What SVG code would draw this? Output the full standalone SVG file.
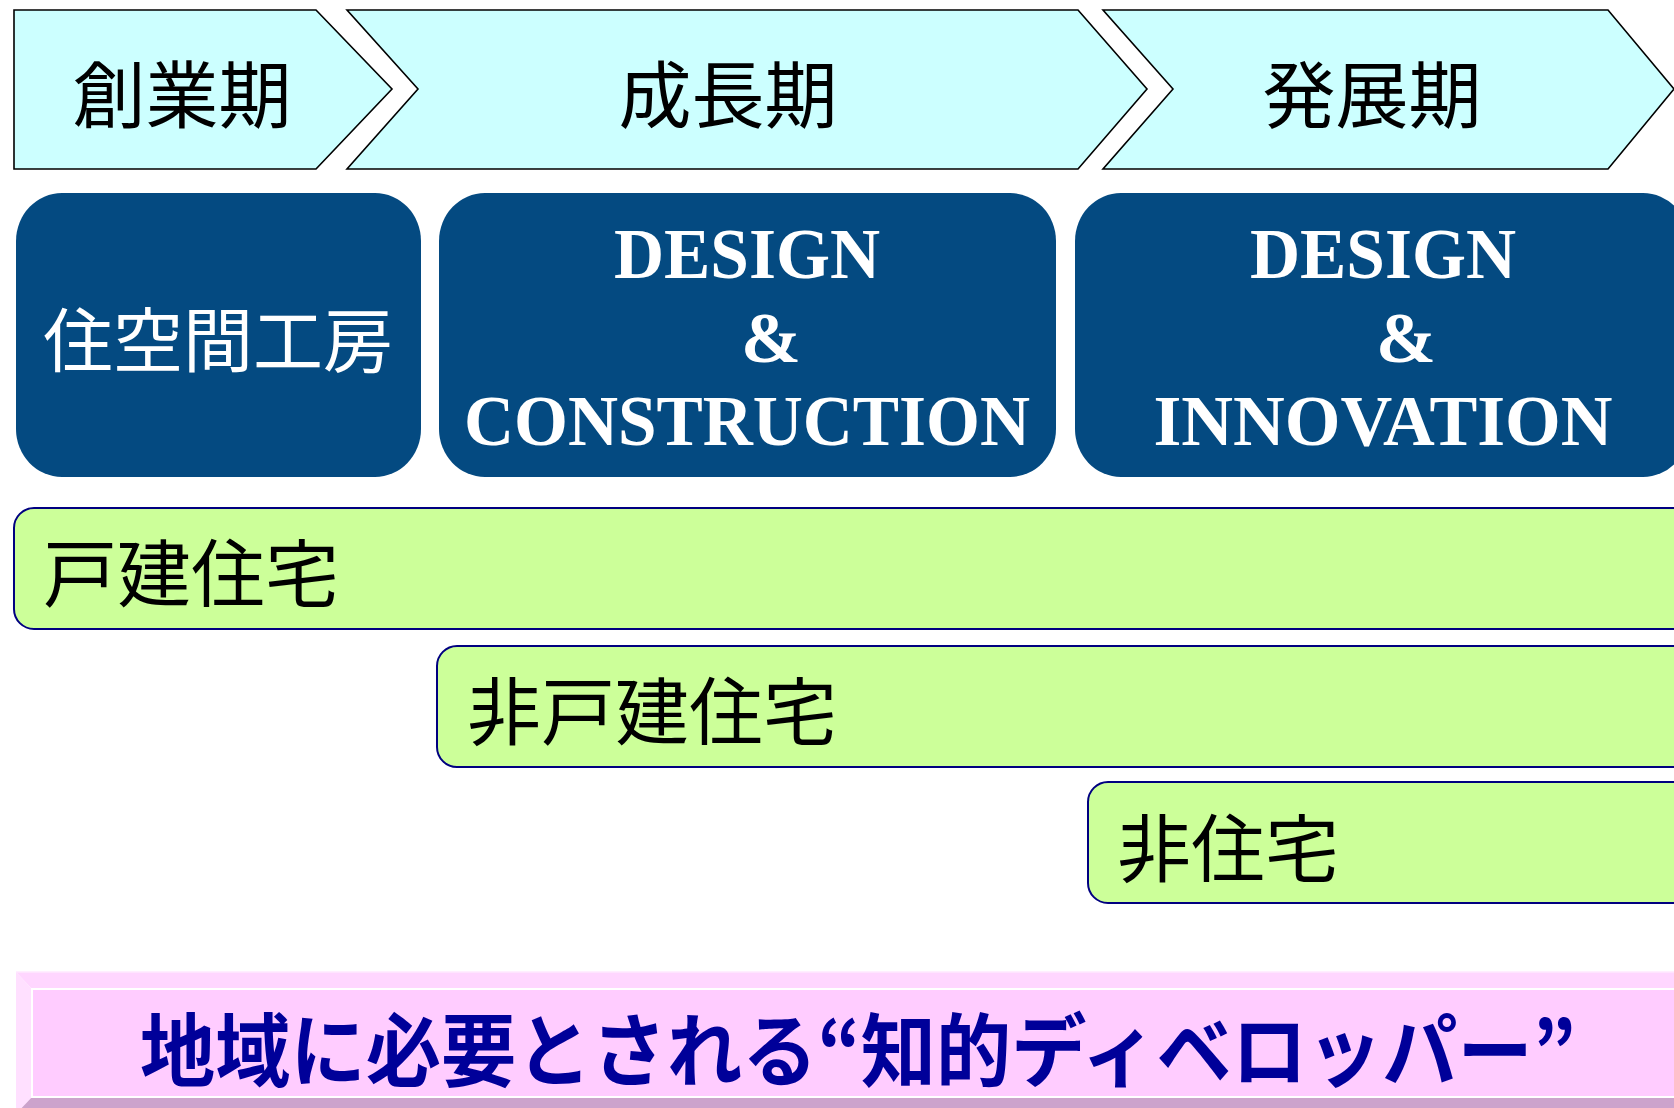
<svg xmlns="http://www.w3.org/2000/svg" width="1674" height="1108" viewBox="0 0 1674 1108">
<style>
.chev{fill:#CCFFFF;stroke:#000;stroke-width:1.6;stroke-linejoin:miter}
.phase{font-family:"Noto Sans CJK JP","Noto Sans",sans-serif;font-size:73px;fill:#000;text-anchor:middle}
.blue{fill:#044A81}
.en{font-family:"Liberation Serif","Times New Roman",serif;font-weight:bold;font-size:72px;fill:#fff;text-anchor:middle}
.jw{font-family:"Noto Sans CJK JP","Noto Sans",sans-serif;font-size:70px;fill:#fff;text-anchor:middle}
.bar{fill:#CCFF99;stroke:#000080;stroke-width:2}
.bt{font-family:"Noto Sans CJK JP","Noto Sans",sans-serif;font-size:74px;fill:#000}
.slogan{font-family:"Noto Sans CJK JP","Noto Sans",sans-serif;font-weight:bold;font-size:80px;fill:#000099}
</style>
<rect width="1674" height="1108" fill="#fff"/>
<g id="phase-sogyo">
<path class="chev" d="M14,10 L316,10 L392,89 L316,169 L14,169 Z"/>
<text class="phase" x="182" y="122">創業期</text>
</g>
<g id="phase-seicho">
<path class="chev" d="M347,10 L1078,10 L1147,89 L1078,169 L347,169 L418,89 Z"/>
<text class="phase" x="728" y="122">成長期</text>
</g>
<g id="phase-hatten">
<path class="chev" d="M1103,10 L1608,10 L1674,89 L1608,169 L1103,169 L1173,89 Z"/>
<text class="phase" x="1372" y="122">発展期</text>
</g>
<g id="box-jukukan">
<rect class="blue" x="16" y="193" width="405" height="284" rx="46" ry="48"/>
<text class="jw" x="218" y="367">住空間工房</text>
</g>
<g id="box-dc">
<rect class="blue" x="439" y="193" width="617" height="284" rx="46" ry="48"/>
<text class="en" x="747" y="278" textLength="266" lengthAdjust="spacingAndGlyphs">DESIGN</text>
<text class="en" x="771" y="362">&amp;</text>
<text class="en" x="747" y="445" textLength="566" lengthAdjust="spacingAndGlyphs">CONSTRUCTION</text>
</g>
<g id="box-di">
<rect class="blue" x="1075" y="193" width="614" height="284" rx="46" ry="48"/>
<text class="en" x="1383" y="278" textLength="266" lengthAdjust="spacingAndGlyphs">DESIGN</text>
<text class="en" x="1406" y="362">&amp;</text>
<text class="en" x="1383" y="445" textLength="459" lengthAdjust="spacingAndGlyphs">INNOVATION</text>
</g>
<g id="bar-kodate">
<rect class="bar" x="14" y="508" width="1700" height="121" rx="20" ry="20"/>
<text class="bt" x="43" y="601">戸建住宅</text>
</g>
<g id="bar-hikodate">
<rect class="bar" x="437" y="646" width="1300" height="121" rx="20" ry="20"/>
<text class="bt" x="467" y="739">非戸建住宅</text>
</g>
<g id="bar-hijutaku">
<rect class="bar" x="1088" y="782" width="700" height="121" rx="20" ry="20"/>
<text class="bt" x="1117" y="876">非住宅</text>
</g>
<g id="slogan">
<polygon points="16,972 1700,972 1700,989 32,989" fill="#FFD6FF"/>
<polygon points="16,972 32,989 32,1097 16,1114" fill="#FFE0FF"/>
<rect x="32" y="989" width="1670" height="108" fill="#FFCCFF"/>
<polygon points="32,1097 1700,1097 1700,1114 16,1114" fill="#CCA3CC"/>
<polyline points="1700,989 32,989 32,1097 1700,1097" fill="none" stroke="#fff" stroke-width="2"/>
<line x1="16" y1="972" x2="1700" y2="972" stroke="#FFE8FF" stroke-width="1.5"/>
<text class="slogan" x="140" y="1080" textLength="1436" lengthAdjust="spacingAndGlyphs">地域に必要とされる“知的ディベロッパー”</text>
</g>
<g id="connectors"></g>
</svg>
